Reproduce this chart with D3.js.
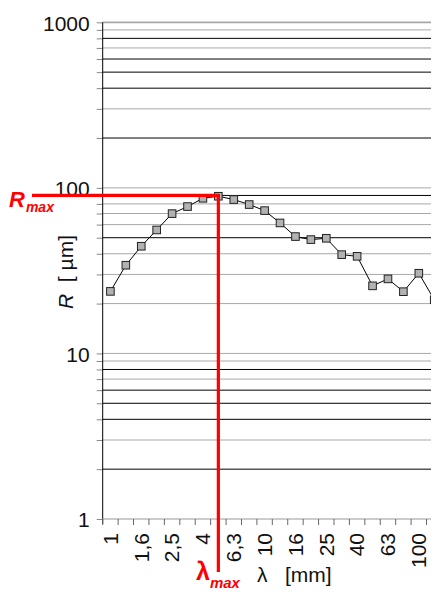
<!DOCTYPE html>
<html lang="en">
<head>
    <meta charset="UTF-8">
    <title>R vs lambda</title>
    <script src="https://d3js.org/d3.v7.min.js"></script>
    <style>
        body { margin: 0; background: #fff; }
        svg text { font-family: "Liberation Sans", Arial, sans-serif; }
    </style>
</head>
<body>
    <div id="my_dataviz"></div>

 <script>
    const lambdas = ["1", "1,25", "1,6", "2", "2,5", "3,15", "4", "5", "6,3", "8", "10", "12,5",
                     "16", "20", "25", "31,5", "40", "50", "63", "80", "100", "125"];
    const rValues = [23.7, 34.1, 44.4, 55.7, 69.9, 77.1, 86.5, 89.0, 85.0, 79.3, 72.9, 61.4,
                     50.8, 48.7, 49.6, 39.5, 38.6, 25.6, 28.2, 23.6, 30.5, 21.1];
    const xLabels = ["1", "1,6", "2,5", "4", "6,3", "10", "16", "25", "40", "63", "100"];
    const yLabels = [1, 10, 100, 1000];
    const gridValues = [2, 3, 4, 5, 6, 7, 8, 9, 10, 20, 30, 40, 50, 60, 70, 80, 90, 100,
                        200, 300, 400, 500, 600, 700, 800, 900, 1000];
    const darkGrid = [2, 4, 5, 6, 8, 50, 90, 200, 400, 500, 600, 800];
    const rMax = 90, lambdaMax = "5";

    // Plot box
    const W = 435, H = 594;
    const pLeft = 102.7, pRight = 431, pTop = 22.3, pBottom = 519;
    const step = 15.42;
    const nb = "\u00a0";

    const svg = d3.select("#my_dataviz")
        .append("svg")
            .attr("width", W)
            .attr("height", H);

    const x = d3.scaleBand()
        .domain(lambdas)
        .range([pLeft, pLeft + step * lambdas.length])
        .padding(0);
    const y = d3.scaleLog()
        .domain([1, 1000])
        .range([pBottom, pTop]);

    svg.append("clipPath").attr("id", "plotclip")
        .append("rect")
            .attr("x", pLeft).attr("y", 0)
            .attr("width", pRight - pLeft).attr("height", pBottom + 1);

    // Gridlines
    const grid = svg.append("g").attr("clip-path", "url(#plotclip)");
    grid.selectAll("line")
        .data(gridValues)
        .join("line")
            .attr("x1", pLeft).attr("x2", pRight)
            .attr("y1", d => y(d)).attr("y2", d => y(d))
            .attr("stroke", d => darkGrid.includes(d) ? "#000" : "#a8a8a8")
            .attr("stroke-width", d => d === 1000 ? 1.8 : 1);

    // Y axis
    const yAxis = svg.append("g")
        .attr("transform", `translate(${pLeft},0)`)
        .call(d3.axisLeft(y)
            .tickValues([1].concat(gridValues))
            .tickSize(6)
            .tickFormat(d => yLabels.includes(d) ? d : ""));
    yAxis.select(".domain").remove();
    yAxis.selectAll(".tick line").attr("stroke", "#888");
    yAxis.selectAll(".tick text")
        .attr("x", -13)
        .attr("dy", "0.38em")
        .style("font-size", "21px")
        .attr("fill", "#111");
    svg.append("line")
        .attr("x1", pLeft).attr("x2", pLeft)
        .attr("y1", pTop).attr("y2", pBottom + 5)
        .attr("stroke", "#000");

    // X axis
    svg.append("line")
        .attr("x1", pLeft).attr("x2", pRight)
        .attr("y1", pBottom).attr("y2", pBottom)
        .attr("stroke", "#999");
    const bounds = lambdas.map(d => x(d)).filter(v => v <= pRight);
    svg.append("g").selectAll("line")
        .data(bounds)
        .join("line")
            .attr("x1", d => d).attr("x2", d => d)
            .attr("y1", pBottom).attr("y2", pBottom + 6)
            .attr("stroke", "#666");
    svg.append("g").selectAll("text")
        .data(xLabels)
        .join("text")
            .attr("transform", d => `translate(${x(d) + x.bandwidth() / 2},533) rotate(-90)`)
            .attr("text-anchor", "end")
            .attr("dy", "0.35em")
            .style("font-size", "21px")
            .attr("fill", "#111")
            .text(d => d);

    // Data line and markers
    const pts = lambdas.map((d, i) => [x(d) + x.bandwidth() / 2, y(rValues[i])]);
    const plot = svg.append("g").attr("clip-path", "url(#plotclip)");
    plot.append("path")
        .attr("d", d3.line()(pts))
        .attr("fill", "none")
        .attr("stroke", "#000")
        .attr("stroke-width", 1);
    plot.selectAll("rect.mk")
        .data(pts)
        .join("rect")
            .attr("class", "mk")
            .attr("x", d => d[0] - 3.8).attr("y", d => d[1] - 3.8)
            .attr("width", 7.6).attr("height", 7.6)
            .attr("fill", "#b2b2b2")
            .attr("stroke", "#222")
            .attr("stroke-width", 1);

    // Rmax / lambda max markers
    const xm = x(lambdaMax) + x.bandwidth() / 2;
    svg.append("line")
        .attr("x1", 32).attr("x2", xm + 1.5)
        .attr("y1", y(rMax)).attr("y2", y(rMax))
        .attr("stroke", "#ff0000").attr("stroke-width", 3.2);
    svg.append("line")
        .attr("x1", xm).attr("x2", xm)
        .attr("y1", y(rMax) - 1.5).attr("y2", 572)
        .attr("stroke", "#ff0000").attr("stroke-width", 3.2);

    const rm = svg.append("text")
        .attr("x", 9).attr("y", 207)
        .attr("fill", "#ff0000")
        .style("font-weight", "bold").style("font-style", "italic");
    rm.append("tspan").style("font-size", "22px").text("R");
    rm.append("tspan").attr("dy", 5).attr("dx", 1).style("font-size", "14px").text("max");

    const lm = svg.append("text")
        .attr("x", 196).attr("y", 580)
        .attr("fill", "#ff0000")
        .style("font-weight", "bold");
    lm.append("tspan").style("font-size", "25px").text("λ");
    lm.append("tspan").attr("dy", 8).style("font-size", "15px").style("font-style", "italic").text("max");

    // Axis titles
    svg.append("text")
        .attr("x", 257).attr("y", 582)
        .style("font-size", "21px")
        .attr("fill", "#111")
        .text("λ" + nb + nb + nb + "[mm]");

    const yt = svg.append("text")
        .attr("transform", "translate(72.5,272) rotate(-90)")
        .attr("text-anchor", "middle")
        .style("font-size", "21px")
        .attr("fill", "#111");
    yt.append("tspan").style("font-style", "italic").text("R");
    yt.append("tspan").text(nb + nb + "[" + nb + "µm]");
 </script>
</body>
</html>
